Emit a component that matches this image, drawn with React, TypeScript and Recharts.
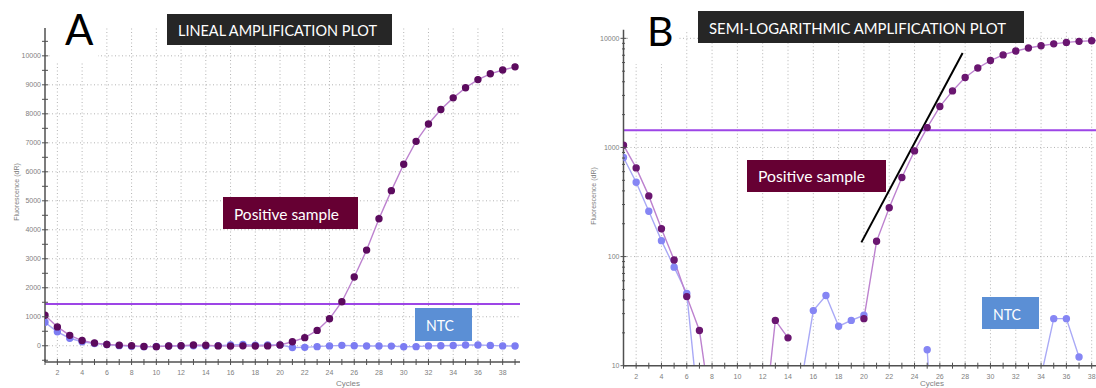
import { Line, LineChart, ReferenceLine, XAxis, YAxis } from "recharts"

const CYCLES = [1, 2, 3, 4, 5, 6, 7, 8, 9, 10, 11, 12, 13, 14, 15, 16, 17, 18, 19, 20, 21, 22, 23, 24, 25, 26, 27, 28, 29, 30, 31, 32, 33, 34, 35, 36, 37, 38, 39]

// fluorescence (dR) per cycle
const POSITIVE = [1050, 650, 360, 180, 93, 43, 21, 3.3, -25, -30, -10, 2.2, 26, 18, -5, -12, -3, -8, -4, 27, 138, 280, 530, 930, 1520, 2370, 3300, 4380, 5350, 6260, 7050, 7650, 8150, 8550, 8900, 9180, 9380, 9510, 9620]
const NTC = [810, 480, 260, 140, 80, 46, 3.3, -20, -30, -25, -10, -5, -2, -8, 6.5, 32, 44, 23, 26, 29, -60, -55, -30, -5, 14, 0.2, -8, -10, -12, -35, -30, -5, -2, 8, 27, 27, 12, -5, -10]

const THRESHOLD = 1440
const TANGENT_CYCLES = [19.8, 27.8]
const TANGENT_VALUES = [135, 7330]

const LINEAR_TICKS = [-500, 0, 500, 1000, 1500, 2000, 2500, 3000, 3500, 4000, 4500, 5000, 5500, 6000, 6500, 7000, 7500, 8000, 8500, 9000, 9500, 10000, 10500]
const LINEAR_GRID = [0, 1000, 2000, 3000, 4000, 5000, 6000, 7000, 8000, 9000, 10000]
const LOG_TICKS = [10, 20, 30, 40, 50, 60, 70, 80, 90, 100, 200, 300, 400, 500, 600, 700, 800, 900, 1000, 2000, 3000, 4000, 5000, 6000, 7000, 8000, 9000, 10000]
const LOG_LABELS = [10, 100, 1000, 10000]
const LOG_GRID = [100, 1000, 10000]
const CYCLE_GRID = [2, 4, 6, 8, 10, 12, 14, 16, 18, 20, 22, 24, 26, 28, 30, 32, 34, 36, 38]

const linearData = CYCLES.map((cycle, index) => ({ cycle, positive: POSITIVE[index], ntc: NTC[index] }))
const logData = CYCLES.map((cycle, index) => ({
  cycle,
  positive: POSITIVE[index] > 0 ? POSITIVE[index] : null,
  ntc: NTC[index] > 0 ? NTC[index] : null,
}))

const AXIS_COLOR = "#505050"
const TICK_TEXT = "#808080"
const GRID_COLOR = "#b4b4b4"
const SANS = "'Liberation Sans', Arial, sans-serif"
const LATO = "Lato, 'Open Sans', sans-serif"

const CycleTick = (props: any) => {
  const { x, y, payload } = props
  const value = Number(payload.value)
  return (
    <g>
      <line x1={x} x2={x} y1={y - 6} y2={y} stroke={AXIS_COLOR} strokeWidth={1} />
      {value % 2 === 0 && (
        <text x={x} y={y + 10} textAnchor="middle" fill={TICK_TEXT} fontFamily={SANS} fontSize={7}>
          {value}
        </text>
      )}
    </g>
  )
}

const LinearTick = (props: any) => {
  const { x, y, payload } = props
  const value = Number(payload.value)
  return (
    <g>
      <line x1={x} x2={x + 6} y1={y} y2={y} stroke={AXIS_COLOR} strokeWidth={1} />
      {value >= 0 && value % 1000 === 0 && (
        <text x={x - 1} y={y + 2.5} textAnchor="end" fill={TICK_TEXT} fontFamily={SANS} fontSize={7}>
          {value}
        </text>
      )}
    </g>
  )
}

const LogTick = (props: any) => {
  const { x, y, payload } = props
  const value = Number(payload.value)
  const major = LOG_LABELS.includes(value)
  return (
    <g>
      <line x1={major ? x : x + 1.5} x2={x + (major ? 6 : 4.5)} y1={y} y2={y} stroke={AXIS_COLOR} strokeWidth={1} />
      {major && (
        <text x={x - 1} y={y + 2.5} textAnchor="end" fill={TICK_TEXT} fontFamily={SANS} fontSize={7}>
          {value}
        </text>
      )}
    </g>
  )
}

function LinearPlot() {
  return (
    <LineChart width={525} height={388} data={linearData} margin={{ top: 28, right: 5, bottom: 4, left: 0 }}>
      {CYCLE_GRID.map((c) => (
        <ReferenceLine key={`vx${c}`} x={c} stroke={GRID_COLOR} strokeDasharray="1 2.5" />
      ))}
      {LINEAR_GRID.map((v) => (
        <ReferenceLine key={`hy${v}`} y={v} stroke={GRID_COLOR} strokeDasharray="1 2.5" />
      ))}
      <XAxis
        dataKey="cycle"
        type="number"
        domain={[1, 39.4]}
        allowDataOverflow
        ticks={CYCLES}
        interval={0}
        height={22}
        tickSize={3}
        tickMargin={0}
        tickLine={false}
        tick={CycleTick}
        axisLine={{ stroke: AXIS_COLOR, strokeWidth: 1.5 }}
      />
      <YAxis
        type="number"
        domain={[-560, 10960]}
        allowDataOverflow
        ticks={LINEAR_TICKS}
        interval={0}
        width={45}
        tickSize={3}
        tickMargin={0}
        tickLine={false}
        tick={LinearTick}
        axisLine={{ stroke: AXIS_COLOR, strokeWidth: 1.5 }}
      />
      <ReferenceLine y={THRESHOLD} stroke="#9d45e6" strokeWidth={2} />
      <Line
        dataKey="ntc"
        stroke="#a9a9f6"
        strokeWidth={1.4}
        dot={{ r: 3, fill: "#7c7cf2", stroke: "#7c7cf2" }}
        activeDot={false}
        isAnimationActive={false}
      />
      <Line
        dataKey="positive"
        stroke="#bd82cf"
        strokeWidth={1.4}
        dot={{ r: 3, fill: "#5c0b5e", stroke: "#5c0b5e" }}
        activeDot={false}
        isAnimationActive={false}
      />
    </LineChart>
  )
}

function LogPlot() {
  return (
    <LineChart width={539} height={388} data={logData} margin={{ top: 29.7, right: 0, bottom: 4.3, left: 0 }}>
      {CYCLE_GRID.map((c) => (
        <ReferenceLine key={`vx${c}`} x={c} stroke={GRID_COLOR} strokeDasharray="1 2.5" />
      ))}
      {LOG_GRID.map((v) => (
        <ReferenceLine key={`hy${v}`} y={v} stroke={GRID_COLOR} strokeDasharray="1 2.5" />
      ))}
      <XAxis
        dataKey="cycle"
        type="number"
        domain={[1, 40]}
        allowDataOverflow
        ticks={CYCLES}
        interval={0}
        height={18}
        tickSize={3}
        tickMargin={0}
        tickLine={false}
        tick={CycleTick}
        axisLine={{ stroke: AXIS_COLOR, strokeWidth: 1.5 }}
      />
      <YAxis
        type="number"
        scale="log"
        domain={[10, 12000]}
        allowDataOverflow
        ticks={LOG_TICKS}
        interval={0}
        width={45.5}
        tickSize={3}
        tickMargin={0}
        tickLine={false}
        tick={LogTick}
        axisLine={{ stroke: AXIS_COLOR, strokeWidth: 1.5 }}
      />
      <ReferenceLine y={THRESHOLD} stroke="#9d45e6" strokeWidth={2} />
      <Line
        dataKey="ntc"
        stroke="#a9a9f6"
        strokeWidth={1.4}
        dot={{ r: 3, fill: "#8686f4", stroke: "#8686f4" }}
        activeDot={false}
        isAnimationActive={false}
      />
      <Line
        dataKey="positive"
        stroke="#bd82cf"
        strokeWidth={1.4}
        dot={{ r: 3, fill: "#6a1670", stroke: "#6a1670" }}
        activeDot={false}
        isAnimationActive={false}
      />
      <ReferenceLine
        segment={[
          { x: TANGENT_CYCLES[0], y: TANGENT_VALUES[0] },
          { x: TANGENT_CYCLES[1], y: TANGENT_VALUES[1] },
        ]}
        stroke="#000000"
        strokeWidth={2}
      />
    </LineChart>
  )
}

export default function App() {
  return (
    <div
      style={{
        position: "absolute",
        left: 0,
        top: 0,
        width: 1096,
        height: 388,
        overflow: "hidden",
        background: "#ffffff",
      }}
    >
      <div style={{ position: "absolute", left: 0, top: 0 }}>
        <LinearPlot />
      </div>
      <div style={{ position: "absolute", left: 578, top: 0 }}>
        <LogPlot />
      </div>
      <svg width={1096} height={388} style={{ position: "absolute", left: 0, top: 0, pointerEvents: "none" }}>
        {/* panel letters */}
        <rect x={52} y={0} width={46} height={63} fill="#ffffff" />
        <text x={65} y={45} fontFamily={LATO} fontSize={42} fill="#000000">A</text>
        <rect x={630} y={0} width={48} height={64} fill="#ffffff" />
        <text x={647} y={46} fontFamily={LATO} fontSize={41} fill="#000000">B</text>

        {/* titles */}
        <rect x={167} y={14} width={225} height={31} fill="#262626" />
        <text x={178} y={36} fontFamily={LATO} fontSize={15} fill="#ffffff" textLength={199} lengthAdjust="spacingAndGlyphs">
          LINEAL AMPLIFICATION PLOT
        </text>
        <rect x={698} y={11} width={326} height={32} fill="#262626" />
        <text x={709} y={33.5} fontFamily={LATO} fontSize={15} fill="#ffffff" textLength={297} lengthAdjust="spacingAndGlyphs">
          SEMI-LOGARITHMIC AMPLIFICATION PLOT
        </text>

        {/* annotations */}
        <rect x={223} y={197} width={135} height={32} fill="#660033" />
        <text x={234} y={220} fontFamily={LATO} fontSize={15} fill="#ffffff" textLength={105} lengthAdjust="spacingAndGlyphs">
          Positive sample
        </text>
        <rect x={747} y={160} width={139} height={32} fill="#660033" />
        <text x={758} y={182} fontFamily={LATO} fontSize={15} fill="#ffffff" textLength={107} lengthAdjust="spacingAndGlyphs">
          Positive sample
        </text>
        <rect x={415} y={308} width={57} height={33} fill="#5b8fd5" />
        <text x={426} y={331} fontFamily={LATO} fontSize={15} fill="#ffffff" textLength={28} lengthAdjust="spacingAndGlyphs">
          NTC
        </text>
        <rect x={982} y={297} width={57} height={32} fill="#5b8fd5" />
        <text x={993} y={319.5} fontFamily={LATO} fontSize={15} fill="#ffffff" textLength={28} lengthAdjust="spacingAndGlyphs">
          NTC
        </text>

        {/* axis titles */}
        <text x={0} y={0} transform="translate(19 192) rotate(-90)" textAnchor="middle" fontFamily={SANS} fontSize={7} fill={TICK_TEXT}>
          Fluorescence (dR)
        </text>
        <text x={0} y={0} transform="translate(596 196) rotate(-90)" textAnchor="middle" fontFamily={SANS} fontSize={7} fill={TICK_TEXT}>
          Fluorescence (dR)
        </text>
        <text x={348} y={386} textAnchor="middle" fontFamily={SANS} fontSize={8} fill={TICK_TEXT}>Cycles</text>
        <text x={932} y={386} textAnchor="middle" fontFamily={SANS} fontSize={8} fill={TICK_TEXT}>Cycles</text>
      </svg>
    </div>
  )
}
